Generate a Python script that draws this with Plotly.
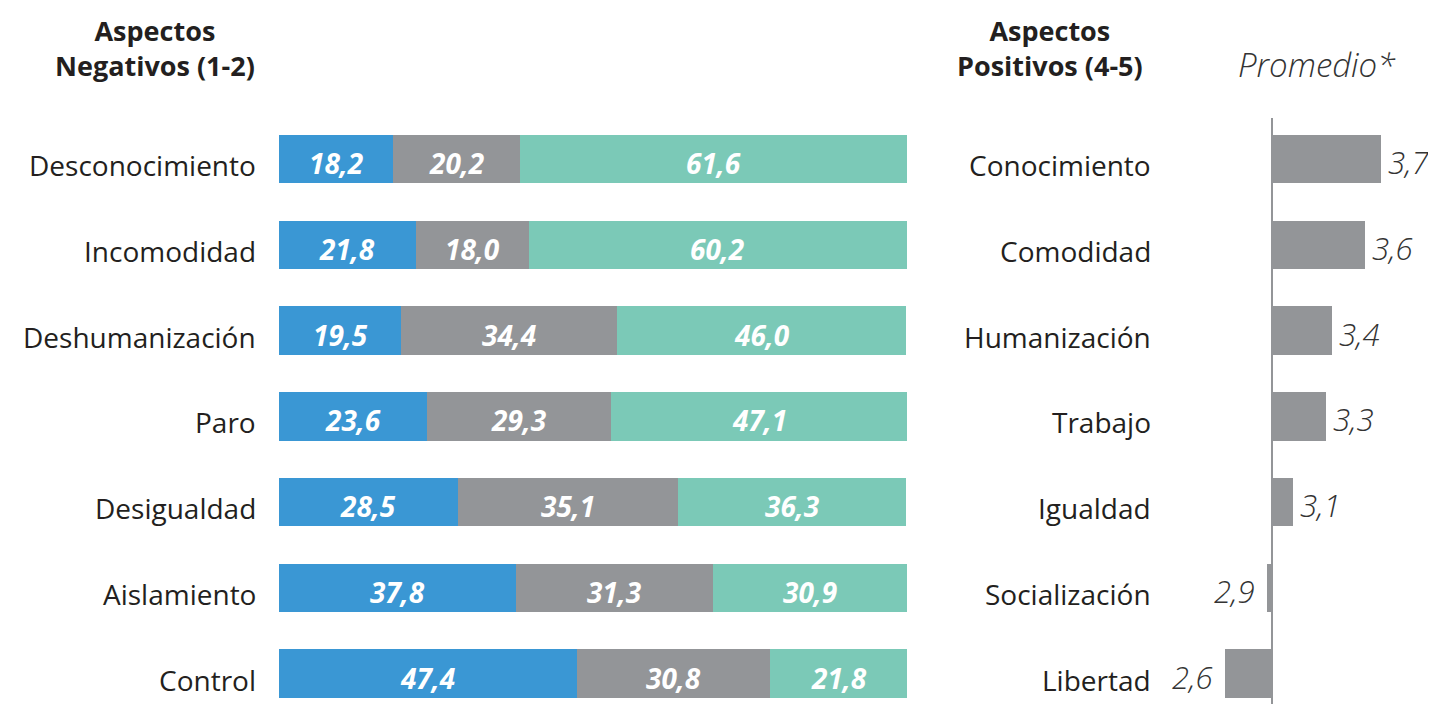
import plotly.graph_objects as go

neg_labels = ["Desconocimiento", "Incomodidad", "Deshumanización", "Paro",
              "Desigualdad", "Aislamiento", "Control"]
pos_labels = ["Conocimiento", "Comodidad", "Humanización", "Trabajo",
              "Igualdad", "Socialización", "Libertad"]
seg_blue = [18.2, 21.8, 19.5, 23.6, 28.5, 37.8, 47.4]
seg_gray = [20.2, 18.0, 34.4, 29.3, 35.1, 31.3, 30.8]
seg_teal = [61.6, 60.2, 46.0, 47.1, 36.3, 30.9, 21.8]
promedio = [3.71, 3.61, 3.39, 3.35, 3.14, 2.97, 2.69]
promedio_text = ["3,7", "3,6", "3,4", "3,3", "3,1", "2,9", "2,6"]
baseline = 3.0

# page shows figure with an 8px body margin
OFF = 8
SW, SH = 1436, 704
W, H = SW - OFF, SH - OFF
FONT = "Open Sans"
DARK = "#231f20"
BLUE = "#3a97d4"
GRAY = "#939598"
TEAL = "#7bc9b7"


def px(x):
    return (x - OFF) / W


def py(y):
    return 1 - (y - OFF) / H


row0, step = 159, 85.75
yr = [(SH - row0) / step, (OFF - row0) / step]
bw = 48.5 / step


def fmt(v):
    return f"{v:.1f}".replace(".", ",")


fig = go.Figure()
ann = []
cum = [0.0] * len(neg_labels)
for vals, col in [(seg_blue, BLUE), (seg_gray, GRAY), (seg_teal, TEAL)]:
    fig.add_trace(go.Bar(
        x=vals, y=neg_labels, orientation="h", marker=dict(color=col, line_width=0),
        width=bw, xaxis="x", yaxis="y", hoverinfo="skip"))
    for i, (lab, v) in enumerate(zip(neg_labels, vals)):
        ann.append(dict(x=cum[i] + v / 2, xref="x", y=lab, yref="y", text=fmt(v),
                        showarrow=False, xanchor="center", yanchor="middle", yshift=-4,
                        font=dict(family=FONT, size=28, color="white", weight="bold",
                                  style="italic")))
        cum[i] += v

fig.add_trace(go.Bar(
    x=[v - baseline for v in promedio], base=baseline, y=pos_labels, orientation="h",
    marker=dict(color=GRAY, line_width=0), width=bw, xaxis="x2", yaxis="y2",
    hoverinfo="skip"))

pxu = 153.0
x2_left = 1160
x2_rng = [baseline - (1272 - x2_left) / pxu, baseline + (SW - 1272) / pxu]

fig.update_layout(
    width=W, height=H, margin=dict(l=0, r=0, t=0, b=0),
    paper_bgcolor="white", plot_bgcolor="white", barmode="stack", showlegend=False,
    xaxis=dict(domain=[px(279), px(907)], range=[0, 100], visible=False),
    yaxis=dict(domain=[0, 1], range=yr, type="category", categoryarray=neg_labels,
               visible=False),
    xaxis2=dict(domain=[px(x2_left), 1.0], range=x2_rng, visible=False),
    yaxis2=dict(domain=[0, 1], range=yr, type="category", categoryarray=pos_labels,
                anchor="x2", visible=False),
)

for lab in neg_labels:
    ann.append(dict(x=px(258), xref="paper", y=lab, yref="y", text=lab, showarrow=False,
                    xanchor="right", yanchor="middle", yshift=-6,
                    font=dict(family=FONT, size=28, color=DARK)))
for lab in pos_labels:
    ann.append(dict(x=px(1153), xref="paper", y=lab, yref="y2", text=lab, showarrow=False,
                    xanchor="right", yanchor="middle", yshift=-6,
                    font=dict(family=FONT, size=28, color=DARK)))
for lab, v, t in zip(pos_labels, promedio, promedio_text):
    pos = v >= baseline
    ann.append(dict(x=v, xref="x2", y=lab, yref="y2", text=t, showarrow=False,
                    xanchor="left" if pos else "right", yanchor="middle",
                    xshift=5 if pos else -10, yshift=-3,
                    font=dict(family=FONT, size=31, color="#333333", style="italic",
                              weight=300)))
ann.append(dict(x=px(155), xref="paper", y=py(48), yref="paper",
                text="<b>Aspectos<br>Negativos (1-2)</b>", showarrow=False, align="center",
                xanchor="center", yanchor="middle",
                font=dict(family=FONT, size=27, color=DARK)))
ann.append(dict(x=px(1050), xref="paper", y=py(48), yref="paper",
                text="<b>Aspectos<br>Positivos (4-5)</b>", showarrow=False, align="center",
                xanchor="center", yanchor="middle",
                font=dict(family=FONT, size=27, color=DARK)))
ann.append(dict(x=px(1316), xref="paper", y=py(64), yref="paper",
                text="Promedio*", showarrow=False, xanchor="center", yanchor="middle",
                font=dict(family=FONT, size=33, color="#333333", style="italic",
                          weight=300)))
fig.update_layout(annotations=ann)

fig.add_shape(type="line", xref="x2", yref="y2", x0=baseline, x1=baseline,
              y0=(118 - row0) / step, y1=yr[0], line=dict(color=GRAY, width=2))

fig.write_html("out.html")
